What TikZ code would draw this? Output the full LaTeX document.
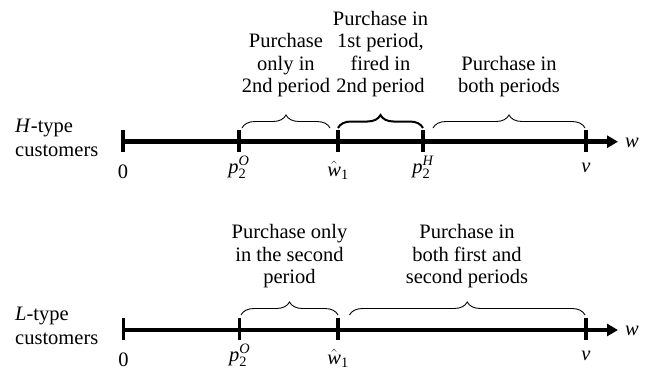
\documentclass[tikz,border=0pt]{standalone}
\usepackage{amsmath}
\usepackage{fontspec}
\setmainfont{Liberation Serif}
\usetikzlibrary{arrows.meta,positioning,decorations.pathreplacing}

\begin{document}
\begin{tikzpicture}[x=1pt,y=-1pt,
    txt/.style={font=\fontsize{20.5}{22.3}\selectfont,align=center,inner sep=0pt},
    lbl/.style={font=\fontsize{20.5}{22}\selectfont,anchor=base,inner sep=0pt},
    cust/.style={anchor=west,align=left,font=\fontsize{20.5}{24}\selectfont,inner sep=0pt},
    axis/.style={line width=4.5pt,-{Triangle[length=11pt,width=12pt]}},
    tick/.style={line width=3.6pt},
    brc/.style={decorate,decoration={brace,amplitude=13pt},line width=0.9pt}]
    \useasboundingbox (0,0) rectangle (646,370);

    % H-type axis
    \node[cust] (hcust) at (15,138.2) {\textit{H}-type\\customers};
    \coordinate (hs) at (123,141.7);
    \coordinate (he) at (618,141.7);
    \draw[axis] (hs) -- (he);
    \node[lbl,anchor=base west] (hw) at (625,147) {\textit{w}};
    \foreach \x/\y/\n/\t in {123/178/z/0,239/173/po/$\textit{p}_{\textrm{2}}^{\textit{O}}$,338/176/w/$\hat{\textit{w}}_{\textrm{1}}$,423/173/ph/$\textit{p}_{\textrm{2}}^{\textit{H}}$,586/172/v/\textit{v}} {
        \draw[tick] (\x,130) -- (\x,152);
        \node[lbl] (h\n) at (\x,\y) {\t};
    }
    % H-type braces
    \draw[brc] (242,128) -- (330,128);
    \draw[brc,line width=2pt] (338,128) -- (423,128);
    \draw[brc] (433,128) -- (585,128);
    \coordinate (hb1) at (286,115);
    \coordinate (hb2) at (380.5,115);
    \coordinate (hb3) at (509,115);
    \node[txt,above=18pt of hb1] (ht1) {Purchase\\only in\\2nd period};
    \node[txt,above=18pt of hb2] (ht2) {Purchase in\\1st period,\\fired in\\2nd period};
    \node[txt,above=18pt of hb3] (ht3) {Purchase in\\both periods};

    % L-type axis
    \node[cust] (lcust) at (15,326.2) {\textit{L}-type\\customers};
    \coordinate (ls) at (123.5,330);
    \coordinate (le) at (618,330);
    \draw[axis] (ls) -- (le);
    \node[lbl,anchor=base west] (lw) at (625,335.3) {\textit{w}};
    \foreach \x/\y/\n/\t in {123.5/366/z/0,239.6/361/po/$\textit{p}_{\textrm{2}}^{\textit{O}}$,338/364/w/$\hat{\textit{w}}_{\textrm{1}}$,586/360/v/\textit{v}} {
        \draw[tick] (\x,318.3) -- (\x,340.3);
        \node[lbl] (l\n) at (\x,\y) {\t};
    }
    % L-type braces
    \draw[brc] (241,315) -- (338,315);
    \draw[brc] (349.5,315) -- (585,315);
    \coordinate (lb1) at (289.5,302);
    \coordinate (lb2) at (467,302);
    \node[txt,above=14pt of lb1] (lt1) {Purchase only\\in the second\\period};
    \node[txt,above=14pt of lb2] (lt2) {Purchase in\\both first and\\second periods};
\end{tikzpicture}
\end{document}
